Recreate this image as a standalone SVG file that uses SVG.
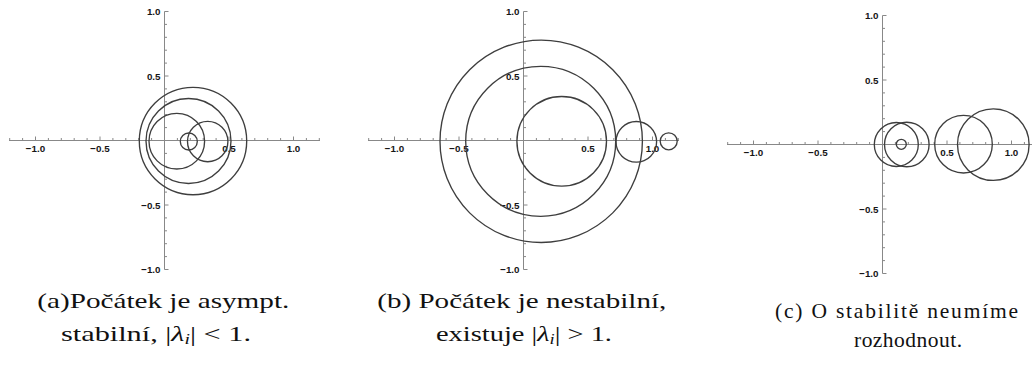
<svg xmlns="http://www.w3.org/2000/svg" xmlns:xlink="http://www.w3.org/1999/xlink" width="1032" height="365" viewBox="0 0 1032 365">
<style>
  .ax { fill: none; stroke: #888; stroke-width: 1; }
  .tk { fill: none; stroke: #888; stroke-width: 1; }
  .c { fill: none; stroke: #3e3e3e; stroke-width: 1.35; }
  .lbl { font-family: "Liberation Sans", Arial, sans-serif; font-weight: bold; font-size: 9.8px; fill: #161616; }
  .lx { text-anchor: middle; }
  .ly { text-anchor: end; }
  .cap { font-family: "Liberation Serif", "Times New Roman", serif; font-size: 21.5px; fill: #111; }
  .it { font-style: italic; }
  .sub { font-style: italic; font-size: 14px; }
</style>
<defs>
  <g id="axes">
    <path class="ax" d="M-155.5 0 H155.5 M0 -129 V129"/>
    <path class="tk" d="M-154.8 0 v-2.5 M-141.9 0 v-2.5 M-116.1 0 v-2.5 M-103.2 0 v-2.5 M-90.3 0 v-2.5 M-77.4 0 v-2.5 M-51.6 0 v-2.5 M-38.7 0 v-2.5 M-25.8 0 v-2.5 M-12.9 0 v-2.5 M12.9 0 v-2.5 M25.8 0 v-2.5 M38.7 0 v-2.5 M51.6 0 v-2.5 M77.4 0 v-2.5 M90.3 0 v-2.5 M103.2 0 v-2.5 M116.1 0 v-2.5 M141.9 0 v-2.5 M154.8 0 v-2.5 M-129 0 v-4 M-64.5 0 v-4 M64.5 0 v-4 M129 0 v-4"/>
    <path class="tk" d="M0 -116.1 h2.5 M0 -103.2 h2.5 M0 -90.3 h2.5 M0 -77.4 h2.5 M0 -51.6 h2.5 M0 -38.7 h2.5 M0 -25.8 h2.5 M0 -12.9 h2.5 M0 12.9 h2.5 M0 25.8 h2.5 M0 38.7 h2.5 M0 51.6 h2.5 M0 77.4 h2.5 M0 90.3 h2.5 M0 103.2 h2.5 M0 116.1 h2.5 M0 -129 h4 M0 -64.5 h4 M0 64.5 h4 M0 129 h4"/>
  </g>
</defs>

<g id="plot-a">
  <g id="axes-a" transform="translate(164.5,140.5)">
    <use xlink:href="#axes" href="#axes"/>
    <g class="lbl">
      <text class="lx" x="-129" y="11">−1.0</text>
      <text class="lx" x="-64.5" y="11">−0.5</text>
      <text class="lx" x="64.5" y="11">0.5</text>
      <text class="lx" x="129" y="11">1.0</text>
      <text class="ly" x="-4" y="-125.5">1.0</text>
      <text class="ly" x="-4" y="-61">0.5</text>
      <text class="ly" x="-4" y="68">−0.5</text>
      <text class="ly" x="-4" y="132.5">−1.0</text>
    </g>
  </g>
  <g id="circles-a">
    <circle class="c" cx="193" cy="141" r="53.7"/>
    <circle class="c" cx="188.5" cy="141" r="42.5"/>
    <circle class="c" cx="176.8" cy="141.2" r="27.8"/>
    <circle class="c" cx="207.7" cy="141.5" r="20.2"/>
    <circle class="c" cx="188.8" cy="141.5" r="8.5"/>
  </g>
  <text id="cap-a1" class="cap" x="37.3" y="308" textLength="252" lengthAdjust="spacingAndGlyphs">(a)Počátek je asympt.</text>
  <text id="cap-a2" class="cap" x="61" y="341" textLength="190" lengthAdjust="spacingAndGlyphs">stabilní, |<tspan class="it">λ</tspan><tspan class="sub" dy="3">i</tspan><tspan dy="-3">| &lt; 1.</tspan></text>
</g>

<g id="plot-b">
  <g id="axes-b" transform="translate(523.5,140.5)">
    <use xlink:href="#axes" href="#axes"/>
    <g class="lbl">
      <text class="lx" x="-129" y="11">−1.0</text>
      <text class="lx" x="-64.5" y="11">−0.5</text>
      <text class="lx" x="64.5" y="11">0.5</text>
      <text class="lx" x="129" y="11">1.0</text>
      <text class="ly" x="-4" y="-125.5">1.0</text>
      <text class="ly" x="-4" y="-61">0.5</text>
      <text class="ly" x="-4" y="68">−0.5</text>
      <text class="ly" x="-4" y="132.5">−1.0</text>
    </g>
  </g>
  <g id="circles-b">
    <circle class="c" cx="541.2" cy="141.3" r="101.2"/>
    <circle class="c" cx="540.7" cy="141.3" r="75"/>
    <circle class="c" cx="561.7" cy="141.3" r="44.8"/>
    <circle class="c" cx="636.3" cy="141.8" r="20.3"/>
    <circle class="c" cx="668.7" cy="141.3" r="8.5"/>
  </g>
  <text id="cap-b1" class="cap" x="377.3" y="308" textLength="289" lengthAdjust="spacingAndGlyphs">(b) Počátek je nestabilní,</text>
  <text id="cap-b2" class="cap" x="436" y="341" textLength="176" lengthAdjust="spacingAndGlyphs">existuje |<tspan class="it">λ</tspan><tspan class="sub" dy="3">i</tspan><tspan dy="-3">| &gt; 1.</tspan></text>
</g>

<g id="plot-c">
  <g id="axes-c" transform="translate(882.5,144.5)">
    <use xlink:href="#axes" href="#axes"/>
    <g class="lbl">
      <text class="lx" x="-129" y="11">−1.0</text>
      <text class="lx" x="-64.5" y="11">−0.5</text>
      <text class="lx" x="64.5" y="11">0.5</text>
      <text class="lx" x="129" y="11">1.0</text>
      <text class="ly" x="-4" y="-125.5">1.0</text>
      <text class="ly" x="-4" y="-61">0.5</text>
      <text class="ly" x="-4" y="68">−0.5</text>
      <text class="ly" x="-4" y="132.5">−1.0</text>
    </g>
  </g>
  <g id="circles-c">
    <circle class="c" cx="896.3" cy="144.5" r="22"/>
    <circle class="c" cx="906.8" cy="144.5" r="22.3"/>
    <circle class="c" cx="901.3" cy="144.3" r="5"/>
    <circle class="c" cx="963.5" cy="144.2" r="28.8"/>
    <circle class="c" cx="993.3" cy="144.6" r="35.8"/>
  </g>
  <text id="cap-c1" class="cap" x="775" y="318" textLength="243" lengthAdjust="spacing">(c) O stabilitě neumíme</text>
  <text id="cap-c2" class="cap" x="854" y="347" textLength="108" lengthAdjust="spacing">rozhodnout.</text>
</g>
</svg>
